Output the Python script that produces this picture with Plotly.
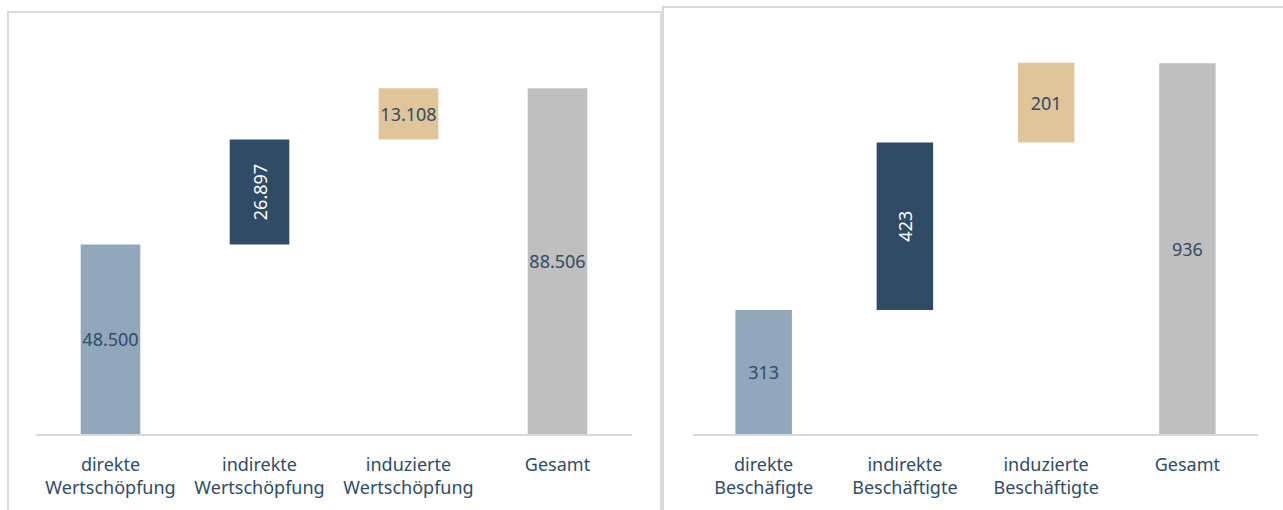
import plotly.graph_objects as go

# ---- data ----
cats_left = ["direkte<br>Wertschöpfung", "indirekte<br>Wertschöpfung",
             "induzierte<br>Wertschöpfung", "Gesamt"]
vals_left = [48500, 26897, 13108, 88506]
labels_left = ["48.500", "26.897", "13.108", "88.506"]

cats_right = ["direkte<br>Beschäfigte", "indirekte<br>Beschäftigte",
              "induzierte<br>Beschäftigte", "Gesamt"]
vals_right = [313, 423, 201, 936]
labels_right = ["313", "423", "201", "936"]

measures = ["relative", "relative", "relative", "total"]

# ---- styles ----
colors = ["#91A7BB", "#2F4B66", "#E0C59A", "#BFBFBF"]
text_colors = ["#2F4B66", "#FFFFFF", "#2F4B66", "#2F4B66"]
text_angles = [0, -90, 0, 0]
FONT = "Noto Sans"
W, H = 1283, 510


def bases(vals, meas):
    out, run = [], 0
    for v, m in zip(vals, meas):
        if m == "total":
            out.append(0)
        else:
            out.append(run)
            run += v
    return out


fig = go.Figure()


def add_panel(cats, vals, labels, xa, ya):
    bs = bases(vals, measures)
    for i, (c, v, b, t) in enumerate(zip(cats, vals, bs, labels)):
        fig.add_trace(go.Bar(
            x=[c], y=[v], base=[b], width=0.4,
            marker=dict(color=colors[i], line=dict(width=0)),
            text=[t], textposition="inside", insidetextanchor="middle",
            textangle=text_angles[i], constraintext="none",
            insidetextfont=dict(family=FONT, size=18, color=text_colors[i]),
            xaxis=xa, yaxis=ya, showlegend=False, hoverinfo="skip",
        ))


add_panel(cats_left, vals_left, labels_left, "x", "y")
add_panel(cats_right, vals_right, labels_right, "x2", "y2")

ydom = [(H - 434) / H, (H - 20) / H]
xcommon = dict(
    type="category", range=[-0.5, 3.5], showline=True, linecolor="#D9D9D9",
    linewidth=2, ticks="outside", ticklen=13, tickcolor="rgba(0,0,0,0)",
    showgrid=False, zeroline=False,
    tickfont=dict(family=FONT, size=18, color="#2F4B66"),
)
fig.update_layout(
    width=W, height=H, margin=dict(l=0, r=0, t=0, b=0),
    paper_bgcolor="white", plot_bgcolor="white", barmode="overlay",
    xaxis=dict(domain=[36 / W, 632 / W], anchor="y", **xcommon),
    xaxis2=dict(domain=[693 / W, 1258 / W], anchor="y2", **xcommon),
    yaxis=dict(domain=ydom, range=[0, 106000], visible=False, anchor="x"),
    yaxis2=dict(domain=ydom, range=[0, 1045], visible=False, anchor="x2"),
    shapes=[
        dict(type="rect", xref="paper", yref="paper",
             x0=8 / W, x1=661 / W, y0=-0.2, y1=(H - 12) / H,
             line=dict(color="#D9D9D9", width=2), layer="below"),
        dict(type="rect", xref="paper", yref="paper",
             x0=663 / W, x1=1.1, y0=-0.2, y1=(H - 7) / H,
             line=dict(color="#D9D9D9", width=2), layer="below"),
    ],
)

fig.write_html(
    "out.html",
    config={"displayModeBar": False},
    post_script="document.body.style.margin='0';document.body.style.overflow='hidden';",
)
